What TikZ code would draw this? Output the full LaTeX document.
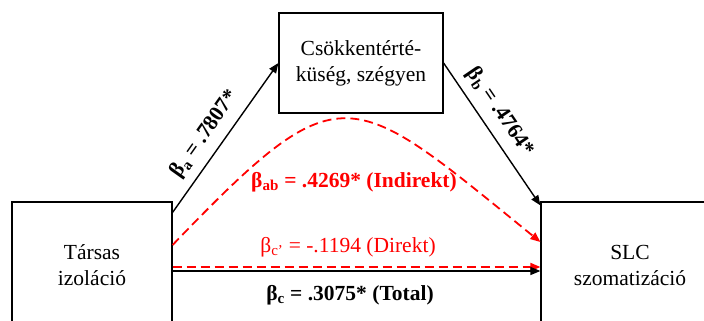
\documentclass[tikz,border=0pt]{standalone}
\usepackage{fontspec}
\setmainfont{Liberation Serif}
\usetikzlibrary{arrows.meta}

\begin{document}
\begin{tikzpicture}[x=1pt,y=1pt,
  varbox/.style={draw=black,line width=1.2pt,align=center,inner sep=0pt,
    font=\fontsize{21.5}{26}\selectfont},
  effect/.style={line width=1.4pt,-{Triangle[length=10pt,width=8pt]}},
  indirect/.style={effect,red,line width=1.8pt,dash pattern=on 9pt off 5pt},
  coef/.style={font=\fontsize{21.5}{26}\selectfont\bfseries}]
\useasboundingbox (0,0) rectangle (704,321);
\clip (0,0) rectangle (704,321);

% valtozok
\node[varbox,minimum width=160pt,minimum height=126pt] (tars) at (92,56) {Társas\\izoláció};
\node[varbox,minimum width=178pt,minimum height=126pt] (slc) at (630,56) {SLC\\szomatizáció};
\node[varbox,minimum width=164pt,minimum height=100pt] (csok) at (361,258) {Csökkentérté-\\küség, szégyen};

% a es b utak
\draw[effect] ([yshift=-11pt]tars.north east) -- (csok.west)
  node[coef,pos=0.45,sloped,above=5pt] (patha) {β\textsubscript{a} = .7807*};
\draw[effect] (csok.east) -- ([yshift=-4pt]slc.north west)
  node[coef,pos=0.42,sloped,above=5pt] (pathb) {β\textsubscript{b} = .4764*};

% indirekt, direkt es total hatas
\draw[indirect] ([yshift=20pt]tars.east) .. controls (342,252) and (348,235) .. ([yshift=23pt]slc.west);
\draw[indirect] ([yshift=-2pt]tars.east) -- ([yshift=-2pt]slc.west);
\draw[effect] ([yshift=-6pt]tars.east) -- ([yshift=-6pt]slc.west);

\node[coef,text=red] (indir) at (354,139) {β\textsubscript{ab} = .4269* (Indirekt)};
\node[font=\fontsize{21.5}{26}\selectfont,text=red] (dir) at (348,74) {β\textsubscript{c'} = -.1194 (Direkt)};
\node[coef] (total) at (350,26) {β\textsubscript{c} = .3075* (Total)};

\end{tikzpicture}
\end{document}
